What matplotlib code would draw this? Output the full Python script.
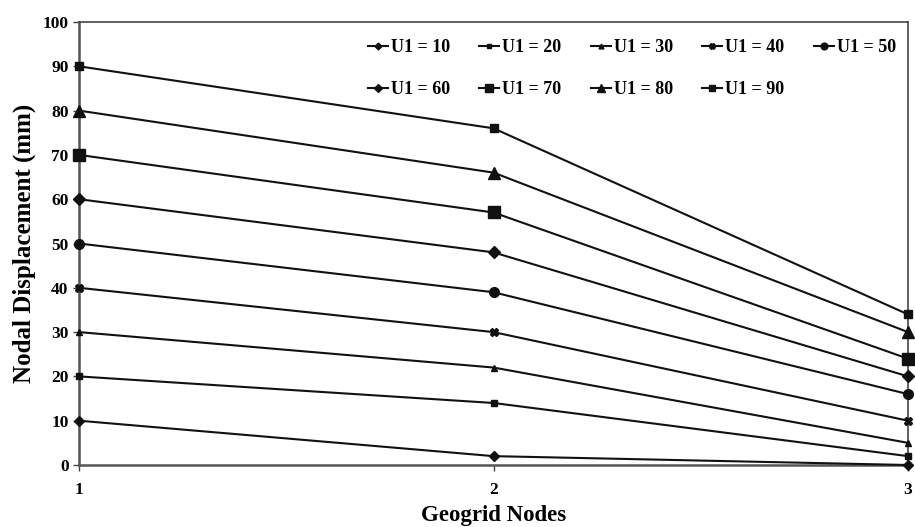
import numpy as np
import matplotlib.pyplot as plt

plt.rcParams['font.family'] = ['Liberation Serif', 'DejaVu Serif']
plt.rcParams['font.weight'] = 'bold'

nodes = [1, 2, 3]
labels = ['U1 = 10', 'U1 = 20', 'U1 = 30', 'U1 = 40', 'U1 = 50',
          'U1 = 60', 'U1 = 70', 'U1 = 80', 'U1 = 90']
disp = [
    [10, 2, 0],
    [20, 14, 2],
    [30, 22, 5],
    [40, 30, 10],
    [50, 39, 16],
    [60, 48, 20],
    [70, 57, 24],
    [80, 66, 30],
    [90, 76, 34],
]
markers = ['D', 's', '^', 'X', 'o', 'D', 's', '^', 's']
msizes = [5, 5, 5, 6, 7, 6, 9, 9, 6]


def main():
    fig = plt.figure(figsize=(9.15, 5.27), dpi=100)
    ax = fig.add_axes([79 / 915, 1 - 465 / 527, (908 - 79) / 915, (465 - 22) / 527])

    lines = []
    for lab, vals, m, ms in zip(labels, disp, markers, msizes):
        ln, = ax.plot(nodes, vals, color='#111111', lw=1.5, marker=m, ms=ms,
                      label=lab, clip_on=False, zorder=3)
        lines.append(ln)

    ax.set_xlim(1, 3)
    ax.set_ylim(0, 100)
    ax.set_xticks(nodes)
    ax.set_yticks(np.arange(0, 101, 10))
    ax.tick_params(axis='both', direction='out', length=4, width=1, labelsize=12.5,
                   color='#444444')
    ax.tick_params(axis='x', pad=8)
    for s in ['left', 'bottom']:
        ax.spines[s].set_linewidth(1.8)
        ax.spines[s].set_color('#555555')
    for s in ['top', 'right']:
        ax.spines[s].set_linewidth(1.2)
        ax.spines[s].set_color('#444444')

    ax.set_xlabel('Geogrid Nodes', fontsize=16.5, fontweight='bold', labelpad=5)
    ax.set_ylabel('Nodal Displacement (mm)', fontsize=18, fontweight='bold', labelpad=5)

    # legend fills column-wise, so interleave to get two rows of 5 + 4
    order = [0, 5, 1, 6, 2, 7, 3, 8, 4]
    ax.legend([lines[i] for i in order], [labels[i] for i in order],
              loc='upper left', bbox_to_anchor=((368 - 79) / 829, 1 - 17 / 443),
              ncol=5, frameon=False, fontsize=13, handlelength=1.1,
              handletextpad=0.15, columnspacing=1.65, labelspacing=1.4,
              markerscale=0.7, borderpad=0, borderaxespad=0)

    fig.savefig('out.png', dpi=100)


if __name__ == '__main__':
    main()
